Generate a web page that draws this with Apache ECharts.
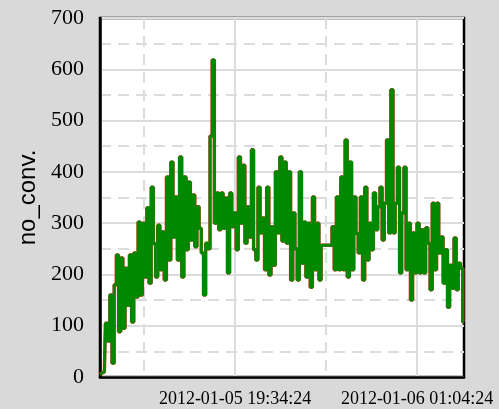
<!DOCTYPE html>
<html>
<head>
<meta charset="utf-8">
<script src="https://cdn.jsdelivr.net/npm/echarts@6/dist/echarts.min.js"></script>
<style>
html,body{margin:0;padding:0;background:#d9d9d9;}
#chart{width:499px;height:409px;}
</style>
</head>
<body>
<div id="chart"></div>
<script>
// ---- data ----
const axisStart = '2012-01-05 15:29:24';
const axisEnd = '2012-01-06 02:29:24';
const sampleStart = '2012-01-05 15:29:24';
const sampleStepSeconds = 237;
const labelTimes = ['2012-01-05 19:34:24', '2012-01-06 01:04:24'];
const minorGridTimes = ['2012-01-05 16:49:24', '2012-01-05 22:19:24'];
const yTicks = [0, 100, 200, 300, 400, 500, 600, 700];
const noConv = [
  5, 8, 10, 105, 70, 160, 27, 180, 238, 88, 232, 95, 212, 140, 238, 107, 242, 156, 302, 160, 300, 195, 330, 183,
  370, 260, 195, 296, 209, 283, 189, 390, 228, 419, 273, 351, 228, 429, 195, 390, 248, 380, 267, 355, 254, 332, 290, 242,
  160, 261, 250, 470, 618, 300, 359, 287, 359, 290, 349, 203, 359, 293, 320, 248, 429, 300, 413, 261, 332, 273, 443, 248,
  228, 370, 281, 310, 209, 370, 199, 293, 218, 400, 281, 429, 265, 419, 261, 400, 189, 320, 250, 189, 400, 222, 302, 195,
  300, 175, 351, 209, 300, 189, 257, 257, 257, 257, 257, 293, 209, 351, 209, 390, 209, 462, 195, 419, 209, 351, 280, 242,
  351, 189, 370, 228, 300, 248, 359, 287, 332, 370, 267, 339, 462, 281, 560, 281, 339, 409, 203, 320, 409, 209, 300, 150,
  281, 203, 300, 203, 287, 203, 291, 261, 170, 339, 209, 339, 242, 273, 183, 248, 136, 218, 173, 271, 170, 222, 212, 107
];

// ---- helpers ----
function parseT(s) {
  const [d, t] = s.split(' ');
  const [Y, M, D] = d.split('-').map(Number);
  const [h, m, sec] = t.split(':').map(Number);
  return Date.UTC(Y, M - 1, D, h, m, sec);
}
function pad(n) { return (n < 10 ? '0' : '') + n; }
function fmt(v) {
  const d = new Date(v);
  return d.getUTCFullYear() + '-' + pad(d.getUTCMonth() + 1) + '-' + pad(d.getUTCDate()) + ' ' +
    pad(d.getUTCHours()) + ':' + pad(d.getUTCMinutes()) + ':' + pad(d.getUTCSeconds());
}
const t0 = parseT(sampleStart);
const seriesData = noConv.map((v, i) => [t0 + i * sampleStepSeconds * 1000, v]);
const xMin = parseT(axisStart), xMax = parseT(axisEnd);
const labelVals = labelTimes.map(parseT);
const minorVals = minorGridTimes.map(parseT);

const chart = echarts.init(document.getElementById('chart'), null, {renderer: 'canvas'});
chart.setOption({
  animation: false,
  backgroundColor: '#d9d9d9',
  grid: {
    left: 100, top: 18, right: 35, bottom: 32,
    show: true, backgroundColor: '#ffffff', borderColor: '#000000', borderWidth: 2.5
  },
  xAxis: [{
    type: 'value', min: xMin, max: xMax,
    axisLine: {show: true, lineStyle: {color: '#000', width: 2.5}},
    axisTick: {show: false, customValues: labelVals},
    axisLabel: {
      customValues: labelVals, formatter: fmt, margin: 13,
      fontFamily: 'Liberation Serif', fontSize: 18, color: '#000'
    },
    splitLine: {show: true, lineStyle: {color: '#dcdcdc', width: 2}}
  }, {
    type: 'value', min: xMin, max: xMax, position: 'bottom',
    axisLine: {show: false},
    axisTick: {show: false, customValues: minorVals},
    axisLabel: {show: false, customValues: minorVals},
    splitLine: {show: true, lineStyle: {color: '#dcdcdc', width: 2, type: [11, 7]}}
  }],
  yAxis: {
    type: 'value', min: yTicks[0], max: yTicks[yTicks.length - 1], interval: 100,
    name: 'no_conv.', nameLocation: 'middle', nameGap: 60,
    nameTextStyle: {fontFamily: 'Liberation Sans', fontSize: 24, color: '#000'},
    axisLine: {show: true, lineStyle: {color: '#000', width: 2.5}},
    axisTick: {show: false},
    axisLabel: {margin: 16, fontFamily: 'Liberation Serif', fontSize: 22, color: '#000'},
    splitLine: {show: true, lineStyle: {color: '#dcdcdc', width: 2}},
    minorTick: {show: false, splitNumber: 2},
    minorSplitLine: {show: true, lineStyle: {color: '#dcdcdc', width: 2, type: [11, 7]}}
  },
  series: [{
    type: 'line', xAxisIndex: 0, data: seriesData, step: 'middle', showSymbol: false, symbol: 'none',
    lineStyle: {color: '#ff2a2a', width: 3.4}, z: 2
  }, {
    type: 'line', xAxisIndex: 0, data: seriesData, step: 'middle', showSymbol: false, symbol: 'none',
    lineStyle: {color: '#008800', width: 3}, z: 3
  }]
});
</script>
</body>
</html>
